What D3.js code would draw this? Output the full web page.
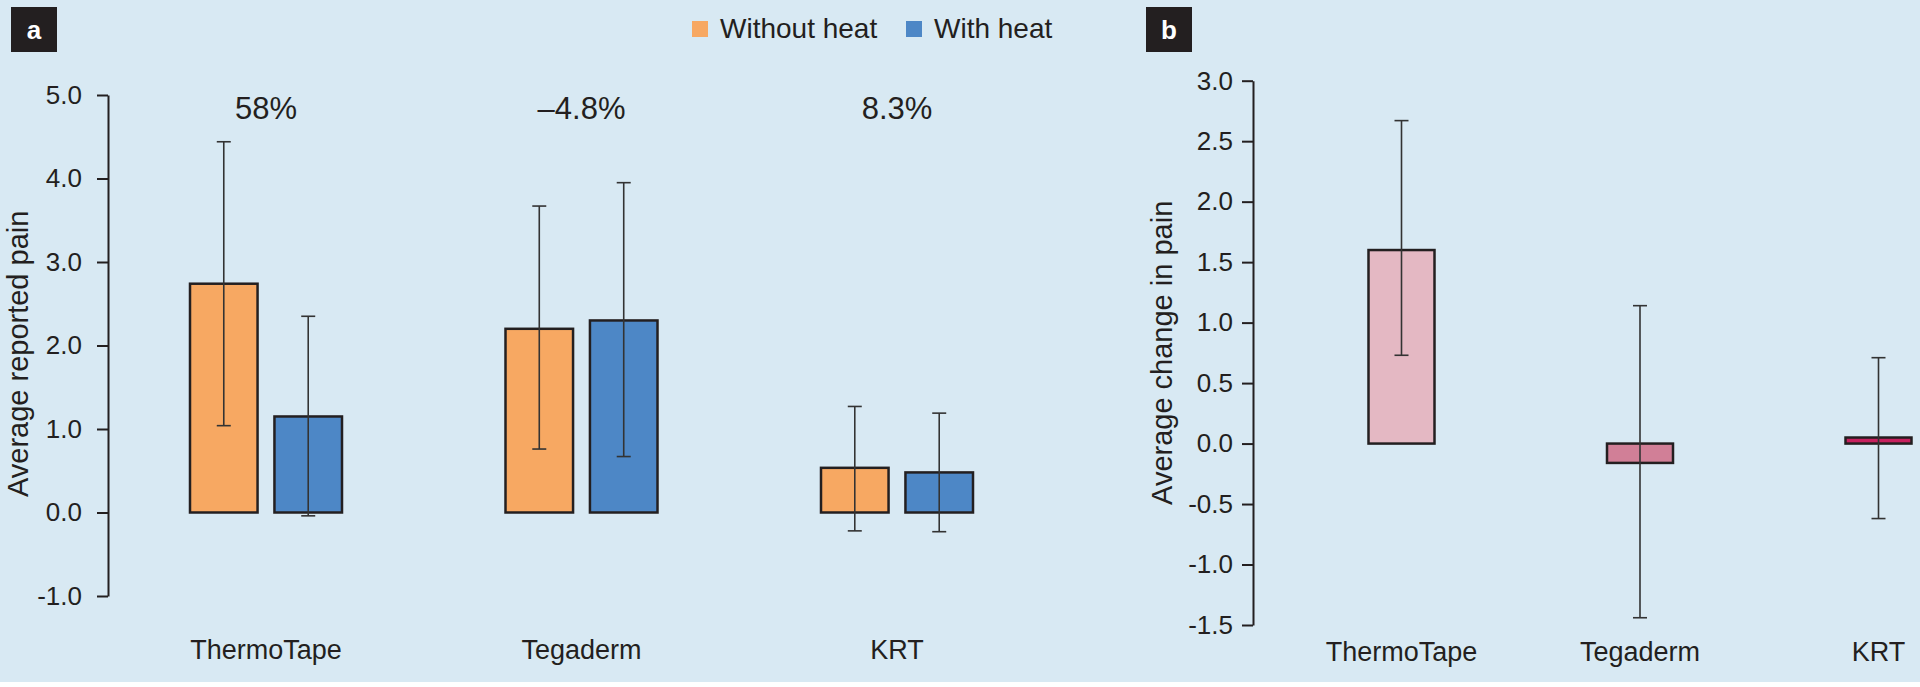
<!DOCTYPE html>
<html lang="en">
  <head>
    <meta charset="UTF-8" />
    <title>Pain with and without heat</title>
    <script src="https://d3js.org/d3.v7.min.js"></script>
    <style>
      body { margin: 0; background: #fff; }
      text { font-family: "Liberation Sans", Arial, Helvetica, sans-serif; fill: #231f20; }
    </style>
  </head>
  <body>
    <script>
      // panel a data
      var products = ["ThermoTape", "Tegaderm", "KRT"];
      var series = ["Without heat", "With heat"];
      var withoutHeat = [2.74, 2.20, 0.535];
      var withoutLow = [1.04, 0.76, -0.22];
      var withoutHigh = [4.44, 3.67, 1.27];
      var withHeat = [1.15, 2.30, 0.48];
      var withLow = [-0.04, 0.67, -0.23];
      var withHigh = [2.35, 3.95, 1.19];
      var pctChange = ["58%", "\u20134.8%", "8.3%"];
      var ticksA = [-1, 0, 1, 2, 3, 4, 5];

      // panel b data
      var change = [1.60, -0.16, 0.05];
      var changeLow = [0.73, -1.44, -0.62];
      var changeHigh = [2.67, 1.14, 0.71];
      var ticksB = [-1.5, -1, -0.5, 0, 0.5, 1, 1.5, 2, 2.5, 3];

      var W = 1920, H = 687;
      var bg = "#d8e9f3";
      var ink = "#231f20";
      var seriesColor = d3.scaleOrdinal().domain(series).range(["#f7a862", "#4d87c6"]);
      var changeColor = d3.scaleOrdinal().domain(products).range(["#e4b8c3", "#d17f97", "#c7215e"]);

      var svg = d3.select("body").append("svg")
        .attr("width", W).attr("height", H);

      svg.append("rect").attr("width", W).attr("height", 682).attr("fill", bg);

      function fmt(d) { return d.toFixed(1); }

      function panelTag(x, letter) {
        var g = svg.append("g").attr("transform", "translate(" + x + ",7)");
        g.append("rect").attr("width", 46).attr("height", 45).attr("fill", ink);
        g.append("text").attr("x", 23).attr("y", 32)
          .attr("text-anchor", "middle").attr("font-size", 26).attr("font-weight", "bold")
          .style("fill", "#fff").text(letter);
      }

      function styleAxis(g) {
        g.selectAll("path, line").attr("stroke", ink).attr("stroke-width", 2);
        g.selectAll("text").attr("font-size", 26).style("fill", ink)
          .attr("font-family", "'Liberation Sans', Arial, sans-serif");
      }

      // ---------- panel a ----------
      panelTag(11, "a");

      var yA = d3.scaleLinear().domain([-1, 5]).range([596, 95]);
      var xA = d3.scalePoint().domain(products).range([266, 897]);
      var xSub = d3.scaleBand().domain(series).range([-76, 76]).paddingInner(0.2);

      svg.append("g").attr("transform", "translate(108,0)")
        .call(d3.axisLeft(yA).tickValues(ticksA).tickFormat(fmt).tickSize(11).tickSizeOuter(0).tickPadding(15))
        .call(styleAxis);

      svg.append("text")
        .attr("transform", "translate(28," + yA(1.9) + ") rotate(-90)")
        .attr("text-anchor", "middle").attr("font-size", 29)
        .text("Average reported pain");

      var rowsA = [];
      products.forEach(function (p, i) {
        rowsA.push({ p: p, s: series[0], v: withoutHeat[i], lo: withoutLow[i], hi: withoutHigh[i] });
        rowsA.push({ p: p, s: series[1], v: withHeat[i], lo: withLow[i], hi: withHigh[i] });
      });

      var barsA = svg.append("g");
      barsA.selectAll("rect").data(rowsA).join("rect")
        .attr("x", function (d) { return xA(d.p) + xSub(d.s); })
        .attr("width", xSub.bandwidth())
        .attr("y", function (d) { return yA(Math.max(0, d.v)); })
        .attr("height", function (d) { return Math.abs(yA(d.v) - yA(0)); })
        .attr("fill", function (d) { return seriesColor(d.s); })
        .attr("stroke", ink).attr("stroke-width", 2.5);

      function errorBars(g, rows, xf, y) {
        var e = g.selectAll("g.err").data(rows).join("g").attr("class", "err")
          .attr("stroke", "#333").attr("stroke-width", 1.6);
        e.append("line")
          .attr("x1", xf).attr("x2", xf)
          .attr("y1", function (d) { return y(d.lo); })
          .attr("y2", function (d) { return y(d.hi); });
        ["lo", "hi"].forEach(function (k) {
          e.append("line")
            .attr("x1", function (d) { return xf(d) - 7; })
            .attr("x2", function (d) { return xf(d) + 7; })
            .attr("y1", function (d) { return y(d[k]); })
            .attr("y2", function (d) { return y(d[k]); });
        });
      }

      errorBars(svg.append("g"), rowsA,
        function (d) { return xA(d.p) + xSub(d.s) + xSub.bandwidth() / 2; }, yA);

      svg.append("g").selectAll("text").data(products).join("text")
        .attr("x", function (d) { return xA(d); })
        .attr("y", 659)
        .attr("text-anchor", "middle").attr("font-size", 27)
        .text(function (d) { return d; });

      svg.append("g").selectAll("text").data(pctChange).join("text")
        .attr("x", function (d, i) { return xA(products[i]); })
        .attr("y", 119)
        .attr("text-anchor", "middle").attr("font-size", 31)
        .text(function (d) { return d; });

      // legend
      var legX = d3.scaleOrdinal().domain(series).range([692, 906]);
      var leg = svg.append("g").selectAll("g").data(series).join("g")
        .attr("transform", function (d) { return "translate(" + legX(d) + ",21)"; });
      leg.append("rect").attr("width", 16).attr("height", 16)
        .attr("fill", function (d) { return seriesColor(d); });
      leg.append("text").attr("x", 28).attr("y", 17).attr("font-size", 28)
        .text(function (d) { return d; });

      // ---------- panel b ----------
      panelTag(1146, "b");

      var yB = d3.scaleLinear().domain([-1.5, 3]).range([625, 80.7]);
      var xB = d3.scalePoint().domain(products).range([1401.5, 1878.5]);
      var barW = 66;

      svg.append("g").attr("transform", "translate(1253,0)")
        .call(d3.axisLeft(yB).tickValues(ticksB).tickFormat(fmt).tickSize(11).tickSizeOuter(0).tickPadding(9))
        .call(styleAxis);

      svg.append("text")
        .attr("transform", "translate(1172," + yB(0.75) + ") rotate(-90)")
        .attr("text-anchor", "middle").attr("font-size", 29)
        .text("Average change in pain");

      var rowsB = products.map(function (p, i) {
        return { p: p, v: change[i], lo: changeLow[i], hi: changeHigh[i] };
      });

      svg.append("g").selectAll("rect").data(rowsB).join("rect")
        .attr("x", function (d) { return xB(d.p) - barW / 2; })
        .attr("width", barW)
        .attr("y", function (d) { return yB(Math.max(0, d.v)); })
        .attr("height", function (d) { return Math.abs(yB(d.v) - yB(0)); })
        .attr("fill", function (d) { return changeColor(d.p); })
        .attr("stroke", ink).attr("stroke-width", 2.5);

      errorBars(svg.append("g"), rowsB, function (d) { return xB(d.p); }, yB);

      svg.append("g").selectAll("text").data(products).join("text")
        .attr("x", function (d) { return xB(d); })
        .attr("y", 661)
        .attr("text-anchor", "middle").attr("font-size", 27)
        .text(function (d) { return d; });
    </script>
  </body>
</html>
